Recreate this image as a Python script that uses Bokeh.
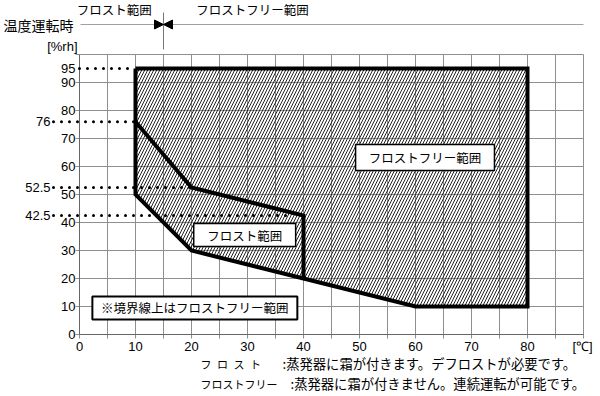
from bokeh.plotting import figure
from bokeh.models import Range1d, Arrow, NormalHead
from bokeh.core.properties import value
from bokeh.embed import file_html
from bokeh.resources import INLINE

# ---------------- data ----------------
x_tick_vals = [0, 10, 20, 30, 40, 50, 60, 70, 80]
x_tick_labels = ["0", "10", "20", "30", "40", "50", "60", "70", "80"]
y_tick_vals = [0, 10, 20, 30, 40, 50, 60, 70, 80, 90]
y_tick_labels = ["0", "10", "20", "30", "40", "50", "60", "70", "80", "90"]
grid_x = [0, 5, 10, 15, 20, 25, 30, 35, 40, 45, 50, 55, 60, 65, 70, 75, 80, 85, 90]
grid_y = [0, 10, 20, 30, 40, 50, 60, 70, 80, 90, 100]

# operating range (temperature [°C], humidity [%rh])
outer_x = [10, 80, 80, 60, 40, 20, 10]
outer_y = [95, 95, 10, 10, 20, 30, 50]
# frost / frost-free boundary
inner_x = [10, 20, 40, 40]
inner_y = [76, 52.5, 42.5, 20]

ref_levels = [95, 76, 52.5, 42.5]
ref_labels = ["95", "76", "52.5", "42.5"]
ref_end_x = [10, 10, 20, 37]

boundary_temp = 15

# ---------------- layout helpers ----------------
PXX = 5.6   # px per °C
PXY = 2.8   # px per %rh
X0, Y0 = 79, 334   # figure px of the data origin

def dx(px):
    return px / PXX

def dy(px):
    return px / PXY

W, H = 598, 394
p = figure(width=W, height=H,
           x_range=Range1d(-X0 / PXX, (W - X0) / PXX),
           y_range=Range1d(-(H - Y0) / PXY, Y0 / PXY),
           output_backend="svg", toolbar_location=None, min_border=0)
p.axis.visible = False
p.grid.visible = False
p.outline_line_color = None
p.background_fill_color = "white"

NUM_FONT = value("Liberation Sans")
JP_FONT = value("Noto Sans CJK JP")
GRID_C = "#8f8f8f"

# grid (with small tick marks beyond axes)
p.segment(x0=grid_x, y0=[-dy(4)] * len(grid_x), x1=grid_x, y1=[grid_y[-1]] * len(grid_x),
          line_color=GRID_C, line_width=1)
p.segment(x0=[-dx(4)] * len(grid_y), y0=grid_y, x1=[grid_x[-1]] * len(grid_y), y1=grid_y,
          line_color=GRID_C, line_width=1)
# axes
p.line([0, 0], [0, grid_y[-1]], line_color="#666666", line_width=1)
p.line([0, grid_x[-1]], [0, 0], line_color="#666666", line_width=1)

# hatched region
p.patch(outer_x, outer_y, fill_color="white", fill_alpha=0, line_color=None,
        hatch_pattern="/", hatch_color="#222222", hatch_scale=6, hatch_weight=1)

# dotted reference levels
for lvl, ex, lab in zip(ref_levels, ref_end_x, ref_labels):
    sx = 0 if lvl == ref_levels[0] else -dx(26)
    p.line([sx, ex], [lvl, lvl], line_color="black", line_width=3,
           line_dash="0 8", line_cap="round")
    lx = -dx(4) if lvl == ref_levels[0] else -dx(29)
    p.text(x=[lx], y=[lvl], text=[lab], text_font=NUM_FONT, text_font_size="13px",
           text_align="right", text_baseline="middle", text_color="black")

# thick outlines
p.line(outer_x + [outer_x[0]], outer_y + [outer_y[0]], line_color="black",
       line_width=4, line_join="miter")
p.line(inner_x, inner_y, line_color="black", line_width=4, line_join="miter")

# tick labels
p.text(x=[-dx(4)] * len(y_tick_vals), y=y_tick_vals, text=y_tick_labels,
       text_font=NUM_FONT, text_font_size="13px", text_align="right",
       text_baseline="middle", text_color="black")
p.text(x=x_tick_vals, y=[-dy(12)] * len(x_tick_vals), text=x_tick_labels,
       text_font=NUM_FONT, text_font_size="13px", text_align="center",
       text_baseline="middle", text_color="black")
p.text(x=[grid_x[-1] - dx(1)], y=[-dy(12)], text=["[℃]"], text_font=NUM_FONT,
       text_font_size="13px", text_align="center", text_baseline="middle")
p.text(x=[-dx(2)], y=[grid_y[-1] + dy(8)], text=["[%rh]"], text_font=NUM_FONT,
       text_font_size="13px", text_align="right", text_baseline="middle")

# boxes with labels
boxes = [
    (49.3, 74.1, 58.6, 67.9, "フロストフリー範囲", 1.5),
    (20.4, 38.6, 31.4, 39.6, "フロスト範囲", 1.5),
    (2.3, 38.9, 5.4, 13.6, "※境界線上はフロストフリー範囲", 2),
]
for l, r, b, t, txt, lw in boxes:
    p.quad(left=[l], right=[r], bottom=[b], top=[t], fill_color="white",
           line_color="black", line_width=lw)
    p.text(x=[(l + r) / 2], y=[(b + t) / 2], text=[txt], text_font=JP_FONT,
           text_font_size="12.5px", text_align="center", text_baseline="middle")

# header: operating mode indicator
hy = grid_y[-1] + dy(30)
p.line([dx(1), grid_x[-1]], [hy, hy], line_color="#a0a0a0", line_width=1)
p.line([boundary_temp, boundary_temp], [grid_y[-1] + dy(5), grid_y[-1] + dy(42)],
       line_color="#777777", line_width=1)
for xs in (boundary_temp - 3, boundary_temp + 3):
    p.add_layout(Arrow(end=NormalHead(size=9, fill_color="black", line_color="black"),
                       x_start=xs, y_start=hy, x_end=boundary_temp, y_end=hy,
                       line_alpha=0))
p.text(x=[-dx(76)], y=[hy], text=["温度運転時"], text_font=JP_FONT,
       text_font_size="14px", text_align="left", text_baseline="middle")
p.text(x=[6.2, 30.9], y=[grid_y[-1] + dy(45)] * 2, text=["フロスト範囲", "フロストフリー範囲"],
       text_font=JP_FONT, text_font_size="12.5px", text_align="center",
       text_baseline="middle")

# legend notes
r1 = -dy(29)
r2 = -dy(49)
p.text(x=[dx(121), dx(121)], y=[r1, r2], text=["フ\u2002ロ\u2002ス\u2002ト", "フロストフリー"],
       text_font=JP_FONT, text_font_size="11px", text_align="left", text_baseline="middle")
p.text(x=[dx(203), dx(211)], y=[r1, r2],
       text=[":蒸発器に霜が付きます。デフロストが必要です。",
             ":蒸発器に霜が付きません。連続運転が可能です。"],
       text_font=JP_FONT, text_font_size="13.3px", text_align="left", text_baseline="middle")

open("out.html", "w").write(file_html(p, INLINE))
